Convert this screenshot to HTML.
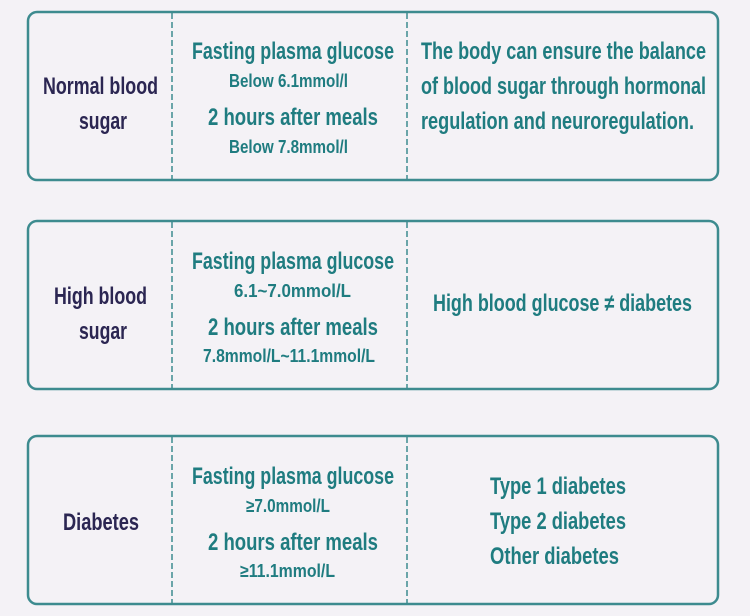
<!DOCTYPE html>
<html><head><meta charset="utf-8"><style>
html,body{margin:0;padding:0;background:#f4f2f6;}
svg{display:block}
text{font-family:"Liberation Sans",sans-serif;font-weight:bold;}
.t{fill:#1f7c80}
.d{fill:#2b2652}
</style></head><body>
<svg width="750" height="616" viewBox="0 0 750 616" xmlns="http://www.w3.org/2000/svg">
<rect width="750" height="616" fill="#f4f2f6"/>
<g fill="none" stroke="#3d8b8f" stroke-width="2.5">
<rect x="28" y="12" width="690" height="168" rx="9"/>
<rect x="28" y="221" width="690" height="168" rx="9"/>
<rect x="28" y="436" width="690" height="168" rx="9"/>
</g>
<g stroke="#3d8b8f" stroke-width="1.5" stroke-dasharray="6,3">
<line x1="172" y1="13" x2="172" y2="179"/><line x1="407" y1="13" x2="407" y2="179"/>
<line x1="172" y1="222" x2="172" y2="388"/><line x1="407" y1="222" x2="407" y2="388"/>
<line x1="172" y1="437" x2="172" y2="603"/><line x1="407" y1="437" x2="407" y2="603"/>
</g>
<g class="d" font-size="24">
<text x="43" y="94" textLength="115" lengthAdjust="spacingAndGlyphs">Normal blood</text>
<text x="79" y="129" textLength="48" lengthAdjust="spacingAndGlyphs">sugar</text>
<text x="54" y="304" textLength="93" lengthAdjust="spacingAndGlyphs">High blood</text>
<text x="79" y="339" textLength="48" lengthAdjust="spacingAndGlyphs">sugar</text>
<text x="63" y="530" textLength="76" lengthAdjust="spacingAndGlyphs">Diabetes</text>
</g>
<g class="t" font-size="24">
<text x="192" y="59" textLength="202" lengthAdjust="spacingAndGlyphs">Fasting plasma glucose</text>
<text x="208" y="125" textLength="170" lengthAdjust="spacingAndGlyphs">2 hours after meals</text>
<text x="192" y="269" textLength="202" lengthAdjust="spacingAndGlyphs">Fasting plasma glucose</text>
<text x="208" y="335" textLength="170" lengthAdjust="spacingAndGlyphs">2 hours after meals</text>
<text x="192" y="484" textLength="202" lengthAdjust="spacingAndGlyphs">Fasting plasma glucose</text>
<text x="208" y="550" textLength="170" lengthAdjust="spacingAndGlyphs">2 hours after meals</text>
<text x="421" y="59" textLength="285" lengthAdjust="spacingAndGlyphs">The body can ensure the balance</text>
<text x="421" y="94" textLength="285" lengthAdjust="spacingAndGlyphs">of blood sugar through hormonal</text>
<text x="421" y="129" textLength="273" lengthAdjust="spacingAndGlyphs">regulation and neuroregulation.</text>
<text x="433" y="311" textLength="259" lengthAdjust="spacingAndGlyphs">High blood glucose ≠ diabetes</text>
<text x="490" y="494" textLength="136" lengthAdjust="spacingAndGlyphs">Type 1 diabetes</text>
<text x="490" y="529" textLength="136" lengthAdjust="spacingAndGlyphs">Type 2 diabetes</text>
<text x="490" y="564" textLength="129" lengthAdjust="spacingAndGlyphs">Other diabetes</text>
</g>
<g class="t" font-size="18" font-weight="normal">
<text x="229" y="87" textLength="119" lengthAdjust="spacingAndGlyphs">Below 6.1mmol/l</text>
<text x="229" y="153" textLength="119" lengthAdjust="spacingAndGlyphs">Below 7.8mmol/l</text>
<text x="234" y="297" textLength="117" lengthAdjust="spacingAndGlyphs">6.1~7.0mmol/L</text>
<text x="203" y="362" textLength="172" lengthAdjust="spacingAndGlyphs">7.8mmol/L~11.1mmol/L</text>
<text x="246" y="512" textLength="84" lengthAdjust="spacingAndGlyphs">≥7.0mmol/L</text>
<text x="240" y="577" textLength="95" lengthAdjust="spacingAndGlyphs">≥11.1mmol/L</text>
</g>
</svg>
</body></html>
